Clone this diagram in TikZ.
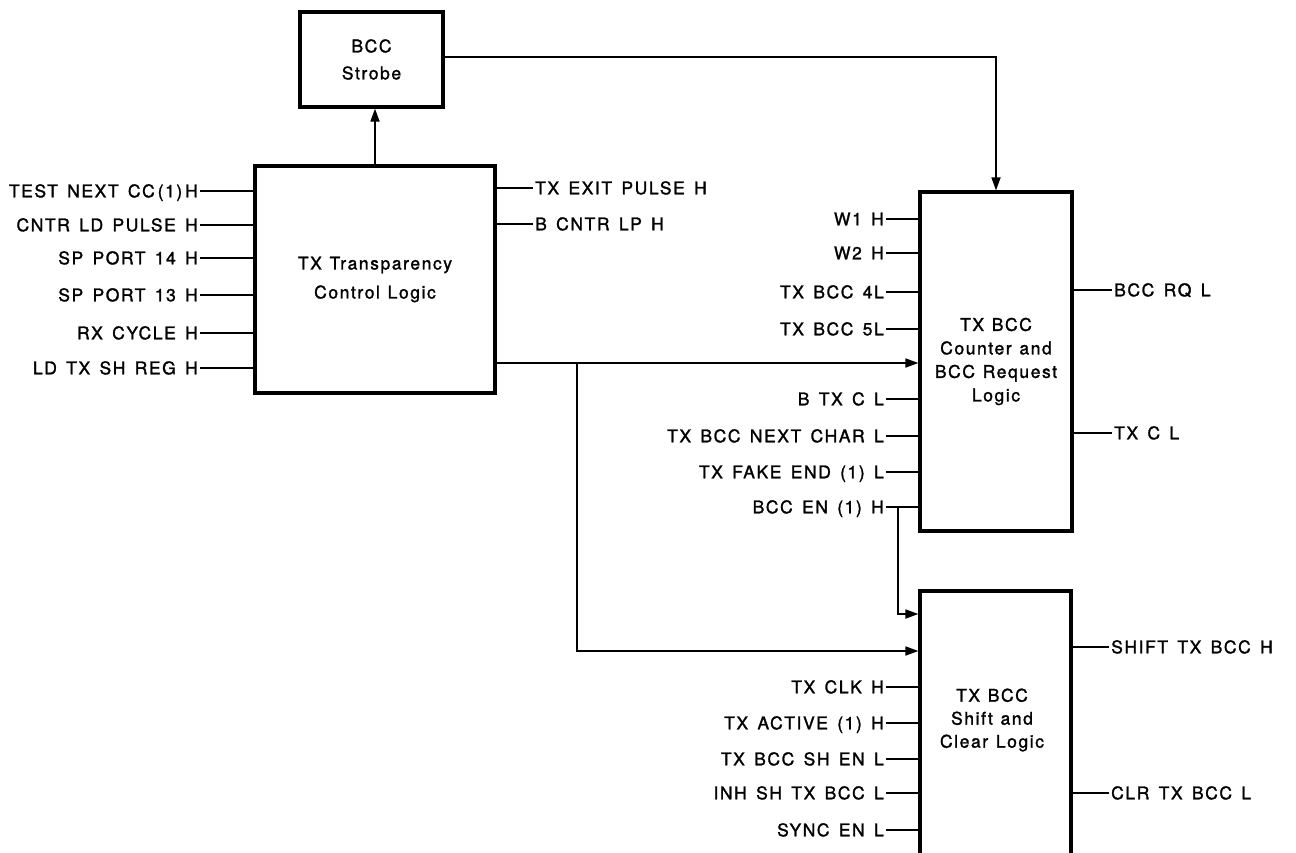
\documentclass[tikz,border=0pt]{standalone}
\usepackage{fontspec}
\setmainfont[LetterSpace=9,WordSpace=1.45,FakeBold=1.5]{TeX Gyre Heros}
\newfontfamily\boxfont[LetterSpace=9,WordSpace=1.2,FakeBold=1.5]{TeX Gyre Heros}
\usetikzlibrary{arrows.meta}
\begin{document}
\begin{tikzpicture}[x=1pt,y=-1pt,
  every node/.style={font=\fontsize{17.5}{24}\selectfont},
  blk/.style={draw,line width=3.2pt,inner sep=0pt,align=center},
  sig/.style={inner xsep=2pt,inner ysep=0pt,text height=12.6pt,text depth=0pt},
  wire/.style={line width=1.7pt},
  arr/.style={wire,-{Triangle[length=13pt,width=9pt]}}]
\useasboundingbox (0,0) rectangle (1296,852);
\clip (0,0) rectangle (1296,852);

% boxes
\node[blk,minimum width=143pt,minimum height=95pt,font=\boxfont\fontsize{17.5}{27}\selectfont] (strobe) at (371.5,59.5) {BCC\\Strobe};
\node[blk,minimum width=240pt,minimum height=227pt,font=\boxfont\fontsize{17.5}{29}\selectfont] (tx) at (375,279.5) {TX Transparency\\Control Logic};
\node[blk,minimum width=152pt,minimum height=339pt,font=\boxfont\fontsize{17.5}{23.5}\selectfont] (cnt) at (996,361.5) {TX BCC\\Counter and\\BCC Request\\Logic};
\node[blk,minimum width=151pt,minimum height=269pt] (sh) at (995.5,725.5) {};
\node[align=center,inner sep=0pt,font=\boxfont\fontsize{17.5}{23}\selectfont] (shtxt) at (992,720) {TX BCC\\Shift and\\Clear Logic};

% TX transparency inputs
\foreach \y/\t [count=\i] in {191/TEST NEXT CC\thinspace(1)\thinspace H,225/CNTR LD PULSE H,258/SP PORT 14 H,295/SP PORT 13 H,333/RX CYCLE H,368/LD TX SH REG H}{
  \node[sig,anchor=east] (a\i) at (200,\y) {\t};
  \draw[wire] (a\i.east) -- (a\i.east -| tx.west);
}
% TX transparency outputs
\foreach \y/\t [count=\i] in {188/TX EXIT PULSE H,224/B CNTR LP H}{
  \node[sig,anchor=west] (b\i) at (533,\y) {\t};
  \draw[wire] (b\i.west -| tx.east) -- (b\i.west);
}
% counter inputs
\foreach \y/\t [count=\i] in {219/W1 H,253/W2 H,292/TX BCC 4L,329/TX BCC 5L,399/B TX C L,436/TX BCC NEXT CHAR L,472/TX FAKE END (1) L,507/BCC EN (1) H}{
  \node[sig,anchor=east] (c\i) at (886,\y) {\t};
  \draw[wire] (c\i.east) -- (c\i.east -| cnt.west);
}
% counter outputs
\foreach \y/\t [count=\i] in {290/BCC RQ L,433/TX C L}{
  \node[sig,anchor=west] (d\i) at (1112,\y) {\t};
  \draw[wire] (d\i.west -| cnt.east) -- (d\i.west);
}
% shift inputs
\foreach \y/\t [count=\i] in {687/TX CLK H,723/TX ACTIVE (1) H,759/TX BCC SH EN L,793/INH SH TX BCC L,830/SYNC EN L}{
  \node[sig,anchor=east] (e\i) at (886,\y) {\t};
  \draw[wire] (e\i.east) -- (e\i.east -| sh.west);
}
% shift outputs
\foreach \y/\t [count=\i] in {647/SHIFT TX BCC H,793/CLR TX BCC L}{
  \node[sig,anchor=west] (f\i) at (1109,\y) {\t};
  \draw[wire] (f\i.west -| sh.east) -- (f\i.west);
}

% connectors
\draw[arr] (tx.north) -- (tx.north |- strobe.south);
\coordinate (s1) at (443,57);
\draw[arr] (s1) -| (cnt.north);
\coordinate (j1) at (577,363);
\coordinate (t1) at (920,363);
\draw[arr] (tx.east |- j1) -- (cnt.west |- t1);
\coordinate (t2) at (920,651);
\draw[arr] (j1) |- (sh.west |- t2);
\coordinate (j2) at (898,507);
\coordinate (t3) at (920,614);
\draw[arr] (j2) |- (sh.west |- t3);
\end{tikzpicture}
\end{document}
